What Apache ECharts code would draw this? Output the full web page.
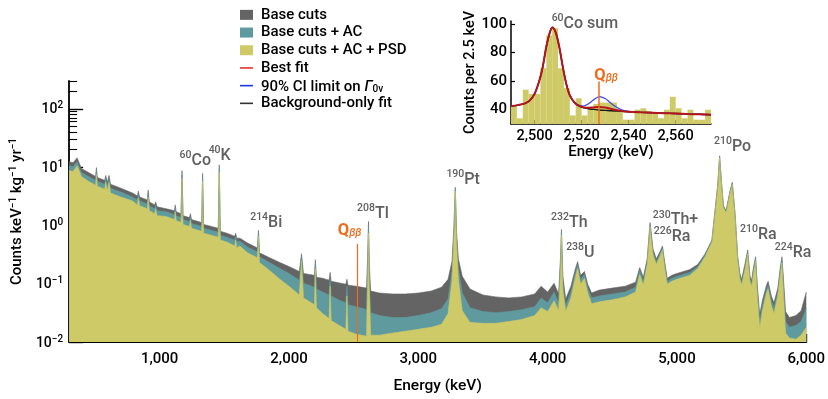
<!DOCTYPE html>
<html>
<head>
<meta charset="utf-8">
<script src="https://cdn.jsdelivr.net/npm/echarts@6/dist/echarts.min.js"></script>
<style>
  html, body { margin: 0; padding: 0; background: #fff; }
  #chart { width: 828px; height: 399px; }
</style>
</head>
<body>
<div id="chart"></div>
<script>
// ---- main spectrum (counts keV^-1 kg^-1 yr^-1) ----
var energies = [300, 330, 362, 395, 450, 505, 511, 518, 575, 583, 595, 609, 620, 700, 790, 800, 828, 835, 845, 905, 911, 920, 962, 969, 980,
  1050, 1115, 1120, 1128, 1165, 1173, 1181, 1230, 1238, 1246, 1325, 1332, 1340, 1400, 1453, 1461, 1469, 1520, 1580, 1588, 1596, 1620, 1680,
  1756, 1764, 1772, 1850, 1930, 2000, 2080, 2097, 2112, 2160, 2197, 2204, 2212, 2260, 2310, 2318, 2326, 2400, 2440, 2448, 2456, 2520, 2600,
  2608, 2615, 2622, 2632, 2700, 2800, 2900, 3000, 3100, 3180, 3230, 3260, 3275, 3286, 3296, 3310, 3340, 3400, 3500, 3600, 3700, 3800, 3900,
  3950, 4000, 4050, 4085, 4100, 4107, 4118, 4140, 4180, 4215, 4232, 4255, 4285, 4310, 4340, 4400, 4500, 4600, 4680, 4712, 4740, 4770, 4792,
  4815, 4840, 4868, 4888, 4905, 4925, 4960, 5000, 5100, 5160, 5218, 5270, 5295, 5315, 5330, 5345, 5360, 5380, 5410, 5428, 5450, 5470, 5487,
  5500, 5525, 5547, 5565, 5578, 5590, 5608, 5622, 5640, 5660, 5690, 5705, 5730, 5750, 5780, 5800, 5812, 5825, 5840, 5870, 5920, 5960, 5985, 6000];

var baseCuts = [12.4, 11.9, 14.4, 9.44, 8.08, 6.92, 9.81, 6.66, 5.93, 7.20, 5.49, 7.20, 5.08, 4.35, 3.59, 3.45, 3.19, 3.87, 3.07, 2.74, 4.03, 2.53, 2.25, 2.53, 2.09,
  1.93, 1.79, 2.25, 1.72, 1.59, 8.73, 1.47, 1.36, 1.59, 1.26, 1.12, 7.78, 1.04, 0.962, 0.890, 11.0, 0.793, 0.734, 0.653, 0.734, 0.605, 0.605, 0.498,
  0.411, 0.824, 0.338, 0.279, 0.230, 0.197, 0.162, 0.326, 0.150, 0.144, 0.139, 0.258, 0.129, 0.124, 0.115, 0.156, 0.110, 0.102, 0.0981, 0.119, 0.0944, 0.0907, 0.0840,
  0.290, 1.17, 0.197, 0.0748, 0.0692, 0.0666, 0.0666, 0.0692, 0.0748, 0.0873, 0.119, 0.239, 0.925, 4.52, 0.762, 0.268, 0.134, 0.0808, 0.0641, 0.0593, 0.0571, 0.0593, 0.0666,
  0.0907, 0.0720, 0.102, 0.0666, 0.290, 0.857, 0.134, 0.0549, 0.0907, 0.182, 0.239, 0.139, 0.162, 0.0981, 0.0692, 0.0778, 0.0840, 0.0907, 0.106, 0.189, 0.129, 0.268, 1.12,
  0.395, 0.268, 0.351, 0.444, 0.239, 0.124, 0.139, 0.150, 0.175, 0.213, 0.326, 0.560, 1.86, 4.89, 15.6, 5.28, 2.17, 1.79, 3.87, 5.49, 1.53, 0.290, 0.150,
  0.119, 0.213, 0.380, 0.134, 0.115, 0.182, 0.290, 0.0907, 0.0295, 0.0508, 0.0907, 0.110, 0.0616, 0.0470, 0.0840, 0.197, 0.290, 0.110, 0.0332, 0.0263, 0.0284, 0.0345, 0.0549, 0.0720];

var baseCutsAC = [10.6, 10.2, 12.4, 8.08, 6.92, 5.93, 8.73, 5.71, 5.08, 6.41, 4.70, 6.41, 4.35, 3.73, 3.07, 2.96, 2.74, 3.45, 2.63, 2.34, 3.59, 2.17, 1.93, 2.25, 1.79,
  1.72, 1.53, 2.01, 1.47, 1.36, 7.48, 1.26, 1.17, 1.42, 1.08, 0.962, 6.66, 0.890, 0.824, 0.762, 9.44, 0.679, 0.628, 0.560, 0.653, 0.518, 0.539, 0.426,
  0.351, 0.734, 0.290, 0.230, 0.182, 0.150, 0.115, 0.290, 0.102, 0.0944, 0.0873, 0.221, 0.0808, 0.0720, 0.0641, 0.119, 0.0616, 0.0508, 0.0470, 0.0907, 0.0435, 0.0403, 0.0359,
  0.197, 0.925, 0.110, 0.0319, 0.0284, 0.0263, 0.0263, 0.0284, 0.0319, 0.0373, 0.0549, 0.162, 0.762, 4.19, 0.628, 0.182, 0.0692, 0.0387, 0.0332, 0.0319, 0.0332, 0.0359, 0.0403,
  0.0571, 0.0470, 0.0720, 0.0470, 0.230, 0.762, 0.102, 0.0418, 0.0720, 0.156, 0.213, 0.119, 0.144, 0.0840, 0.0571, 0.0616, 0.0666, 0.0720, 0.0873, 0.169, 0.110, 0.239, 1.04,
  0.351, 0.239, 0.326, 0.411, 0.213, 0.110, 0.124, 0.134, 0.156, 0.197, 0.313, 0.539, 1.79, 4.70, 15.0, 5.08, 2.09, 1.72, 3.73, 5.28, 1.47, 0.268, 0.134,
  0.106, 0.189, 0.351, 0.119, 0.102, 0.162, 0.268, 0.0748, 0.0225, 0.0418, 0.0778, 0.0944, 0.0508, 0.0387, 0.0720, 0.175, 0.258, 0.0840, 0.0225, 0.0179, 0.0193, 0.0225, 0.0307, 0.0387];

var baseCutsACPSD = [8.73, 8.40, 10.6, 6.92, 5.71, 4.89, 7.48, 4.70, 4.19, 5.49, 3.87, 5.49, 3.59, 3.07, 2.63, 2.44, 2.25, 2.96, 2.17, 1.93, 3.07, 1.79, 1.59, 1.93, 1.47,
  1.42, 1.26, 1.72, 1.21, 1.12, 6.41, 1.04, 0.962, 1.21, 0.890, 0.793, 5.71, 0.734, 0.679, 0.628, 8.08, 0.560, 0.518, 0.444, 0.560, 0.411, 0.444, 0.338,
  0.279, 0.653, 0.230, 0.169, 0.119, 0.0907, 0.0641, 0.248, 0.0571, 0.0489, 0.0435, 0.182, 0.0387, 0.0307, 0.0253, 0.0907, 0.0234, 0.0186, 0.0165, 0.0616, 0.0153, 0.0136, 0.0126,
  0.110, 0.734, 0.0616, 0.0131, 0.0131, 0.0142, 0.0153, 0.0165, 0.0179, 0.0201, 0.0307, 0.110, 0.628, 3.87, 0.498, 0.115, 0.0345, 0.0217, 0.0209, 0.0209, 0.0225, 0.0244, 0.0284,
  0.0387, 0.0332, 0.0508, 0.0345, 0.182, 0.679, 0.0748, 0.0332, 0.0571, 0.129, 0.182, 0.0981, 0.124, 0.0692, 0.0452, 0.0489, 0.0529, 0.0593, 0.0720, 0.144, 0.0944, 0.213, 0.962,
  0.313, 0.213, 0.290, 0.380, 0.189, 0.0981, 0.110, 0.119, 0.139, 0.182, 0.290, 0.518, 1.72, 4.52, 14.4, 4.89, 2.01, 1.65, 3.59, 5.08, 1.42, 0.248, 0.119,
  0.0944, 0.169, 0.326, 0.106, 0.0907, 0.144, 0.248, 0.0616, 0.0172, 0.0332, 0.0666, 0.0808, 0.0418, 0.0307, 0.0616, 0.150, 0.230, 0.0616, 0.0142, 0.0117, 0.0112, 0.0131, 0.0159, 0.0179];

var xMajorTicks = [1000, 2000, 3000, 4000, 5000, 6000];
var xMinorTicks = [400, 600, 800, 1200, 1400, 1600, 1800, 2200, 2400, 2600, 2800, 3200, 3400, 3600, 3800,
  4200, 4400, 4600, 4800, 5200, 5400, 5600, 5800];
var yMajorTicks = [0.01, 0.1, 1, 10, 100];
var yMinorTicks = [0.02, 0.03, 0.04, 0.05, 0.06, 0.07, 0.08, 0.09, 0.2, 0.3, 0.4, 0.5, 0.6, 0.7, 0.8, 0.9,
  2, 3, 4, 5, 6, 7, 8, 9, 20, 30, 40, 50, 60, 70, 80, 90, 200, 300];

var qbb = 2527.5;

// isotope labels: mass number, element, label centre (keV, counts)
var peakLabels = [
  ['60', 'Co', 1276, 13.4], ['40', 'K', 1464, 16.5], ['214', 'Bi', 1824, 1.19], ['208', 'Tl', 2649, 1.65],
  ['190', 'Pt', 3347, 6.29], ['232', 'Th', 4168, 1.19], ['238', 'U', 4253, 0.359], ['230', 'Th+', 4989, 1.29],
  ['226', 'Ra', 4962, 0.667], ['210', 'Po', 5430, 23.4], ['210', 'Ra', 5630, 0.72], ['224', 'Ra', 5898, 0.352]
];

// ---- inset: ROI around Q_bb, counts per 2.5 keV ----
var binStarts = [2490, 2492.5, 2495, 2497.5, 2500, 2502.5, 2505, 2507.5, 2510, 2512.5, 2515, 2517.5, 2520, 2522.5, 2525, 2527.5, 2530,
  2532.5, 2535, 2537.5, 2540, 2542.5, 2545, 2547.5, 2550, 2552.5, 2555, 2557.5, 2560, 2562.5, 2565, 2567.5, 2570, 2572.5];
var binCounts = [43, 34, 54, 51, 51, 69, 92, 97, 69, 55, 36, 48, 36, 42, 44, 45, 45, 45, 39, 33, 33, 40, 41, 39, 37, 34, 40, 49, 41, 34, 40, 33, 33, 40];

var fitEnergies = [2490, 2493, 2496, 2498, 2500, 2502, 2503.5, 2505, 2506.5, 2507.6, 2509, 2510.5, 2512, 2513.5, 2515, 2517, 2519, 2521,
  2523, 2525, 2527.5, 2530, 2532, 2534, 2537, 2540, 2545, 2550, 2555, 2560, 2565, 2570, 2575];
var bkgOnlyFit = [42.6, 43.2, 44.4, 46.5, 51, 60, 70, 84, 94, 97.5, 94, 84, 70, 58, 50, 45, 42.5, 41.3,
  40.7, 40.2, 39.8, 39.5, 39.3, 39.1, 38.9, 38.6, 38.2, 37.9, 37.6, 37.3, 37.0, 36.8, 36.5];
var bestFit = [42.6, 43.2, 44.4, 46.5, 51, 60, 70, 84, 94, 97.5, 94, 84, 70, 58, 50, 45, 42.6, 41.6,
  41.3, 41.6, 41.9, 41.6, 40.8, 39.9, 39.1, 38.6, 38.2, 37.9, 37.6, 37.3, 37.0, 36.8, 36.5];
var ciLimitFit = [42.6, 43.2, 44.4, 46.5, 51, 60, 70, 84, 94, 97.5, 94, 84, 70, 58, 50, 45.2, 43.0, 42.6,
  44.2, 46.8, 49.2, 47.8, 45.2, 42.6, 40.0, 38.8, 38.2, 37.9, 37.6, 37.3, 37.0, 36.8, 36.5];
var insetXTicks = [2500, 2520, 2540, 2560];
var insetYTicks = [40, 60, 80, 100];

var GRAY = '#646464', TEAL = '#5f9b9e', OLIVE = '#cfca68', ORANGE = '#f26b1d', LABEL = '#606060';
var FONT = 'Roboto, "Liberation Sans", Arial, sans-serif';
var W = 500;

function zip(xs, ys) {
  return xs.map(function (x, i) { return [x, ys[i]]; });
}

var chart = echarts.init(document.getElementById('chart'));

function areaSeries(name, color, values) {
  return {
    name: name, type: 'line', xAxisIndex: 0, yAxisIndex: 0,
    data: zip(energies, values), symbol: 'none', color: color,
    lineStyle: { width: 0.6, color: color },
    areaStyle: { color: color, opacity: 1, origin: 'start' },
    animation: false
  };
}

var labelRich = {
  s: { fontSize: 10.5, color: LABEL, fontWeight: W, lineHeight: 11, verticalAlign: 'top' },
  b: { fontSize: 16, color: LABEL, fontWeight: W, lineHeight: 19, verticalAlign: 'bottom' },
  q: { fontSize: 16.5, color: ORANGE, fontWeight: 'bold', lineHeight: 19, verticalAlign: 'bottom' },
  qs: { fontSize: 10.5, color: ORANGE, fontStyle: 'italic', lineHeight: 11, verticalAlign: 'bottom' }
};

var grayS = areaSeries('Base cuts', GRAY, baseCuts);
grayS.markPoint = {
  symbolSize: 0, silent: true, animation: false,
  label: { show: true, position: 'inside', rich: labelRich },
  data: peakLabels.map(function (p) {
    return { coord: [p[2], p[3]], label: { formatter: '{s|' + p[0] + '}{b|' + p[1] + '}' } };
  }).concat([{ coord: [2469, 0.84], label: { formatter: '{q|Q}{qs|ββ}' } }])
};
var tealS = areaSeries('Base cuts + AC', TEAL, baseCutsAC);
var oliveS = areaSeries('Base cuts + AC + PSD', OLIVE, baseCutsACPSD);
oliveS.markLine = {
  symbol: 'none', silent: true, animation: false,
  lineStyle: { color: ORANGE, width: 1.2, type: 'solid' },
  label: { show: false },
  data: [[{ coord: [qbb, 0.01] }, { coord: [qbb, 0.48] }]]
};

var insetBars = {
  type: 'custom', xAxisIndex: 2, yAxisIndex: 2,
  data: zip(binStarts, binCounts),
  renderItem: function (params, api) {
    var a = api.coord([api.value(0), api.value(1)]);
    var b = api.coord([api.value(0) + 2.5, 30]);
    return { type: 'rect', shape: { x: a[0], y: a[1], width: b[0] - a[0], height: b[1] - a[1] },
      style: { fill: OLIVE, stroke: null } };
  },
  markLine: {
    symbol: 'none', silent: true, animation: false,
    lineStyle: { color: ORANGE, width: 1.5, type: 'solid' }, label: { show: false },
    data: [[{ coord: [qbb, 30] }, { coord: [qbb, 59.7] }]]
  },
  markPoint: {
    symbolSize: 0, silent: true, animation: false,
    label: { show: true, position: 'inside', rich: labelRich },
    data: [
      { coord: [2521.4, 101], label: { formatter: '{s|60}{b|Co sum}' } },
      { coord: [2530.4, 64.4], label: { formatter: '{q|Q}{qs|ββ}' } }
    ]
  },
  animation: false
};

function fitSeries(name, color, width, values) {
  return {
    name: name, type: 'line', xAxisIndex: 2, yAxisIndex: 2, smooth: 0.3,
    data: zip(fitEnergies, values), symbol: 'none', color: color,
    lineStyle: { color: color, width: width }, animation: false
  };
}

var lineIcon = 'path://M0,4.2L13,4.2L13,5.8L0,5.8Z';

var option = {
  animation: false,
  textStyle: { fontFamily: FONT, color: '#000', fontWeight: W },
  legend: {
    orient: 'vertical', left: 240, top: 6, padding: 0, itemGap: 0,
    itemWidth: 13, itemHeight: 10, selectedMode: false,
    textStyle: {
      fontSize: 15, color: '#000', fontWeight: W, lineHeight: 17.7, fontFamily: FONT, padding: [0, 0, 0, 3],
      rich: {
        t: { fontSize: 15, fontWeight: W, lineHeight: 17.7, verticalAlign: 'bottom' },
        g: { fontSize: 15, fontWeight: W, fontStyle: 'italic', lineHeight: 17.7, verticalAlign: 'bottom' },
        sub: { fontSize: 10, fontWeight: W, lineHeight: 10, verticalAlign: 'bottom' }
      }
    },
    formatter: function (name) {
      if (name.indexOf('90%') === 0) return '{t|90% CI limit on }{g|Γ}{sub|0ν}';
      return name;
    },
    data: [
      { name: 'Base cuts', icon: 'rect', itemStyle: { color: GRAY } },
      { name: 'Base cuts + AC', icon: 'rect', itemStyle: { color: TEAL } },
      { name: 'Base cuts + AC + PSD', icon: 'rect', itemStyle: { color: OLIVE } },
      { name: 'Best fit', icon: lineIcon, itemStyle: { color: '#e5322b' } },
      { name: '90% CI limit on Γ0ν', icon: lineIcon, itemStyle: { color: '#2035f0' } },
      { name: 'Background-only fit', icon: lineIcon, itemStyle: { color: '#333' } }
    ]
  },
  grid: [
    { left: 69, right: 16, top: 81, bottom: 52 },
    { left: 511, right: 117, top: 21, bottom: 275 }
  ],
  xAxis: [
    {
      type: 'value', gridIndex: 0, min: 300, max: 6000,
      name: 'Energy (keV)', nameLocation: 'middle', nameGap: 36,
      nameTextStyle: { fontSize: 15.5, color: '#000', fontWeight: W },
      axisLine: { lineStyle: { color: '#000', width: 1.8 } },
      axisTick: { inside: true, length: 8, lineStyle: { color: '#000', width: 1.4 }, customValues: xMajorTicks },
      axisLabel: { fontSize: 15, color: '#000', fontWeight: W, margin: 10, customValues: xMajorTicks,
        formatter: function (v) { return v.toLocaleString('en-US'); } },
      splitLine: { show: false }
    },
    {
      type: 'value', gridIndex: 0, min: 300, max: 6000, position: 'bottom',
      axisLine: { show: false },
      axisTick: { inside: true, length: 4, lineStyle: { color: '#000', width: 1.2 }, customValues: xMinorTicks },
      axisLabel: { show: false }, splitLine: { show: false }
    },
    {
      type: 'value', gridIndex: 1, min: 2490, max: 2575,
      name: 'Energy (keV)', nameLocation: 'middle', nameGap: 20,
      nameTextStyle: { fontSize: 15, color: '#000', fontWeight: W },
      axisLine: { lineStyle: { color: '#000', width: 1.5 } },
      axisTick: { inside: true, length: 4, lineStyle: { color: '#000', width: 1.2 }, customValues: insetXTicks },
      axisLabel: { fontSize: 14.5, color: '#000', fontWeight: W, margin: 5, customValues: insetXTicks,
        formatter: function (v) { return v.toLocaleString('en-US'); } },
      splitLine: { show: false }
    }
  ],
  yAxis: [
    {
      type: 'log', gridIndex: 0, min: 0.01, max: 300,
      name: '{t|Counts keV}{s|\u22121}{t| kg}{s|\u22121}{t| yr}{s|\u22121}',
      nameLocation: 'middle', nameGap: 42, nameRotate: 90,
      nameTextStyle: { rich: {
        t: { fontSize: 15, color: '#000', fontWeight: W, lineHeight: 17, verticalAlign: 'bottom' },
        s: { fontSize: 10, color: '#000', fontWeight: W, lineHeight: 10, verticalAlign: 'top' } } },
      axisLine: { lineStyle: { color: '#000', width: 1.8 } },
      axisTick: { inside: true, length: 14, lineStyle: { color: '#000', width: 1.4 }, customValues: yMajorTicks },
      axisLabel: { margin: 6, customValues: yMajorTicks,
        formatter: function (v) {
          var p = Math.round(Math.log10(v));
          return '{b|10}{s|' + (p < 0 ? '\u2212' + (-p) : p) + '}';
        },
        rich: {
          b: { fontSize: 14, color: '#000', fontWeight: W, lineHeight: 16, verticalAlign: 'bottom' },
          s: { fontSize: 10, color: '#000', fontWeight: W, lineHeight: 10, verticalAlign: 'top' }
        } },
      splitLine: { show: false }
    },
    {
      type: 'log', gridIndex: 0, min: 0.01, max: 300, position: 'left',
      axisLine: { show: false },
      axisTick: { inside: true, length: 8, lineStyle: { color: '#000', width: 1.1 }, customValues: yMinorTicks },
      axisLabel: { show: false }, splitLine: { show: false }
    },
    {
      type: 'value', gridIndex: 1, min: 30, max: 102,
      name: 'Counts per 2.5 keV', nameLocation: 'middle', nameGap: 26, nameRotate: 90,
      nameTextStyle: { fontSize: 14.5, color: '#000', fontWeight: W },
      axisLine: { lineStyle: { color: '#000', width: 1.5 } },
      axisTick: { inside: true, length: 4, lineStyle: { color: '#000', width: 1.2 }, customValues: insetYTicks },
      axisLabel: { fontSize: 15, color: '#000', fontWeight: W, margin: 4, customValues: insetYTicks },
      splitLine: { show: false }
    }
  ],
  series: [
    grayS, tealS, oliveS,
    insetBars,
    fitSeries('Background-only fit', '#1a1a1a', 1.4, bkgOnlyFit),
    fitSeries('90% CI limit on Γ0ν', '#3446f0', 1.2, ciLimitFit),
    fitSeries('Best fit', '#b3151a', 2, bestFit)
  ]
};

chart.setOption(option);
</script>
</body>
</html>
